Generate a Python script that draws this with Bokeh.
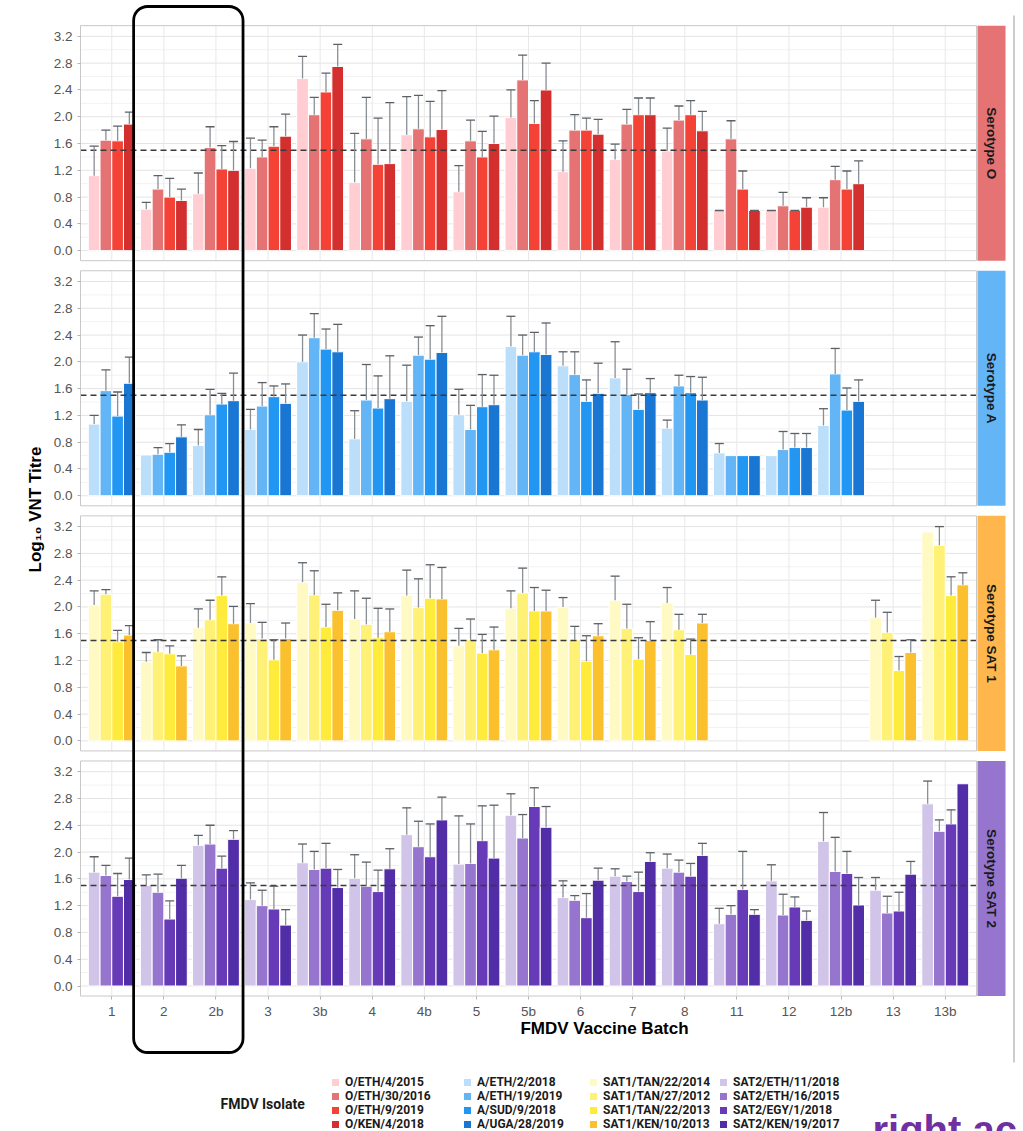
import math
from bokeh.plotting import figure
from bokeh.models import (Range1d, FixedTicker, ColumnDataSource, Whisker, TeeHead,
                          BoxAnnotation, Label, Legend, LegendItem)
from bokeh.embed import file_html
from bokeh.resources import INLINE
from bokeh.core.properties import value

# ---------------- data ----------------
BATCHES = ["1", "2", "2b", "3", "3b", "4", "4b", "5", "5b", "6", "7", "8",
           "11", "12", "12b", "13", "13b"]
THRESHOLD = 1.5
Y_TICKS = [0.0, 0.4, 0.8, 1.2, 1.6, 2.0, 2.4, 2.8, 3.2]
Y_MINOR = [0.2, 0.6, 1.0, 1.4, 1.8, 2.2, 2.6, 3.0]
N = None

O_ISOLATES = ["O/ETH/4/2015", "O/ETH/30/2016", "O/ETH/9/2019", "O/KEN/4/2018"]
O_MEAN = [
    [1.12, 0.62, 0.85, 1.23, 2.57, 1.02, 1.73, 0.88, 1.99, 1.18, 1.36, 1.49, 0.60, 0.60, 0.65, N, N],
    [1.65, 0.92, 1.54, 1.40, 2.03, 1.67, 1.82, 1.64, 2.55, 1.80, 1.89, 1.95, 1.67, 0.67, 1.06, N, N],
    [1.64, 0.80, 1.22, 1.56, 2.37, 1.29, 1.70, 1.40, 1.90, 1.80, 2.03, 2.03, 0.92, 0.60, 0.92, N, N],
    [1.89, 0.75, 1.20, 1.71, 2.75, 1.30, 1.81, 1.60, 2.40, 1.74, 2.03, 1.79, 0.60, 0.65, 1.00, N, N],
]
O_UPPER = [
    [1.56, 0.72, 1.16, 1.68, 2.90, 1.75, 2.30, 1.27, 2.40, 1.64, 1.59, 1.83, 0.60, 0.60, 0.79, N, N],
    [1.80, 1.12, 1.85, 1.65, 2.29, 2.29, 2.32, 1.95, 2.92, 2.03, 2.11, 2.16, 1.94, 0.87, 1.26, N, N],
    [1.86, 1.08, 1.57, 1.85, 2.65, 1.98, 2.23, 1.78, 2.24, 1.98, 2.28, 2.24, 1.19, 0.60, 1.19, N, N],
    [2.07, 0.92, 1.63, 2.04, 3.08, 2.21, 2.39, 2.01, 2.80, 1.96, 2.28, 2.08, 0.60, 0.79, 1.34, N, N],
]

A_ISOLATES = ["A/ETH/2/2018", "A/ETH/19/2019", "A/SUD/9/2018", "A/UGA/28/2019"]
A_MEAN = [
    [1.07, 0.61, 0.75, 0.99, 2.00, 0.85, 1.41, 1.21, 2.23, 1.94, 1.76, 1.01, 0.64, 0.60, 1.05, N, N],
    [1.57, 0.62, 1.21, 1.34, 2.36, 1.43, 2.10, 0.99, 2.10, 1.81, 1.51, 1.64, 0.60, 0.69, 1.82, N, N],
    [1.19, 0.65, 1.37, 1.48, 2.19, 1.31, 2.04, 1.33, 2.15, 1.41, 1.29, 1.54, 0.60, 0.72, 1.28, N, N],
    [1.68, 0.88, 1.42, 1.38, 2.15, 1.45, 2.14, 1.36, 2.11, 1.53, 1.54, 1.43, 0.60, 0.72, 1.41, N, N],
]
A_UPPER = [
    [1.20, N, 0.99, 1.29, 2.40, 1.27, 1.95, 1.59, 2.68, 2.15, 2.30, 1.13, 0.78, N, 1.30, N, N],
    [1.88, 0.72, 1.59, 1.69, 2.72, 1.96, 2.37, 1.35, 2.40, 2.15, 1.89, 1.80, N, 0.96, 2.20, N, N],
    [1.55, 0.78, 1.53, 1.64, 2.49, 1.79, 2.54, 1.81, 2.44, 1.73, 1.52, 1.78, N, 0.93, 1.61, N, N],
    [2.07, 1.06, 1.83, 1.67, 2.56, 2.09, 2.68, 1.80, 2.58, 1.98, 1.75, 1.77, N, 0.93, 1.73, N, N],
]

SAT1_ISOLATES = ["SAT1/TAN/22/2014", "SAT1/TAN/27/2012", "SAT1/TAN/22/2013", "SAT1/KEN/10/2013"]
SAT1_MEAN = [
    [2.03, 1.18, 1.69, 1.76, 2.37, 1.82, 2.17, 1.42, 1.98, 2.00, 2.10, 2.06, N, N, N, 1.84, 3.12],
    [2.19, 1.33, 1.81, 1.53, 2.18, 1.74, 1.99, 1.51, 2.21, 1.51, 1.68, 1.66, N, N, N, 1.62, 2.92],
    [1.48, 1.30, 2.17, 1.21, 1.70, 1.54, 2.13, 1.31, 1.94, 1.19, 1.22, 1.29, N, N, N, 1.05, 2.17],
    [1.58, 1.12, 1.75, 1.53, 1.95, 1.63, 2.12, 1.36, 1.94, 1.57, 1.50, 1.76, N, N, N, 1.32, 2.33],
]
SAT1_UPPER = [
    [2.24, 1.32, 1.97, 2.05, 2.66, 2.24, 2.55, 1.68, 2.24, 2.14, 2.46, 2.29, N, N, N, 2.10, N],
    [2.26, 1.51, 2.10, 1.77, 2.54, 2.13, 2.42, 1.82, 2.58, 1.71, 2.04, 1.89, N, N, N, 1.92, 3.20],
    [1.65, 1.42, 2.45, 1.51, 2.04, 1.98, 2.63, 1.59, 2.29, 1.57, 1.54, 1.52, N, N, N, 1.26, 2.45],
    [1.72, 1.27, 2.01, 1.76, 2.21, 1.97, 2.59, 1.70, 2.25, 1.75, 1.78, 1.89, N, N, N, 1.51, 2.51],
]

SAT2_ISOLATES = ["SAT2/ETH/11/2018", "SAT2/ETH/16/2015", "SAT2/EGY/1/2018", "SAT2/KEN/19/2017"]
SAT2_MEAN = [
    [1.70, 1.50, 2.10, 1.29, 1.84, 1.61, 2.26, 1.82, 2.55, 1.32, 1.64, 1.76, 0.93, 1.57, 2.16, 1.43, 2.72],
    [1.65, 1.40, 2.12, 1.20, 1.74, 1.49, 2.08, 1.83, 2.21, 1.28, 1.56, 1.70, 1.07, 1.06, 1.71, 1.09, 2.31],
    [1.34, 1.00, 1.76, 1.15, 1.76, 1.41, 1.93, 2.17, 2.68, 1.02, 1.41, 1.64, 1.44, 1.18, 1.68, 1.12, 2.42],
    [1.59, 1.61, 2.19, 0.91, 1.47, 1.75, 2.48, 1.91, 2.37, 1.58, 1.86, 1.95, 1.07, 0.98, 1.21, 1.67, 3.02],
]
SAT2_UPPER = [
    [1.93, 1.66, 2.25, 1.54, 2.12, 1.96, 2.66, 2.54, 2.87, 1.57, 1.75, 1.97, 1.16, 1.81, 2.59, 1.62, 3.06],
    [1.80, 1.67, 2.40, 1.43, 2.01, 1.85, 2.46, 2.42, 2.56, 1.35, 1.64, 1.88, 1.20, 1.37, 2.22, 1.34, 2.48],
    [1.68, 1.27, 1.94, 1.49, 2.13, 1.73, 2.42, 2.69, 2.96, 1.38, 1.70, 1.83, 2.01, 1.33, 2.01, 1.40, 2.63],
    [1.91, 1.80, 2.32, 1.14, 1.74, 2.05, 2.82, 2.70, 2.68, 1.76, 1.99, 2.13, 1.14, 1.12, 1.62, 1.86, N],
]

PANELS = [
    ("Serotype O", O_ISOLATES, O_MEAN, O_UPPER,
     ["#FFCDD2", "#E57373", "#F44336", "#D32F2F"], "#E57373"),
    ("Serotype A", A_ISOLATES, A_MEAN, A_UPPER,
     ["#BBDEFB", "#64B5F6", "#2196F3", "#1976D2"], "#64B5F6"),
    ("Serotype SAT 1", SAT1_ISOLATES, SAT1_MEAN, SAT1_UPPER,
     ["#FFF9C4", "#FFF176", "#FFEB3B", "#FBC02D"], "#FFB74D"),
    ("Serotype SAT 2", SAT2_ISOLATES, SAT2_MEAN, SAT2_UPPER,
     ["#D1C4E9", "#9575CD", "#673AB7", "#512DA8"], "#9575CD"),
]

# ---------------- layout geometry (page pixels -> data) ----------------
FONT = "Liberation Sans"
LEG_FONT = "Roboto"
W, H = 1023, 1131
PANEL_LEFT_PX, PANEL_RIGHT_PX, STRIP_RIGHT_PX = 80, 976, 1005
ZERO_PX = 985.5          # page y of value 0 in the lowest panel
PX_Y = 66.97             # px per log10 unit
PANEL_LO, PANEL_HI, GAP = -0.15, 3.36, 0.15
PITCH = PANEL_HI - PANEL_LO + GAP
NP = len(PANELS)
X0 = -0.6
X_PANEL_END = len(BATCHES) - 1 + 0.6
PX_X = (PANEL_RIGHT_PX - PANEL_LEFT_PX) / (X_PANEL_END - X0)
BW = 0.225          # bar width (4 bars dodged over 0.9)
CAP = 9             # error-bar cap in px
LEGEND_COL_PX = [330, 462, 588, 718]


def xd(px):
    return X0 + (px - PANEL_LEFT_PX) / PX_X


def yd(py):
    return (ZERO_PX - py) / PX_Y


p = figure(width=W, height=H, x_range=Range1d(xd(0), xd(W)), y_range=Range1d(yd(H), yd(0)),
           output_backend="svg", toolbar_location=None, title=None,
           min_border_left=0, min_border_right=0, min_border_top=0, min_border_bottom=0)
p.outline_line_color = None
p.background_fill_color = "white"
p.border_fill_color = "white"
p.xgrid.visible = False
p.ygrid.visible = False

offsets = [(NP - 1 - k) * PITCH for k in range(NP)]
major = sorted(round(o + t, 4) for o in offsets for t in Y_TICKS)
overrides = {round(o + t, 4): f"{t:.1f}" for o in offsets for t in Y_TICKS}

p.yaxis.ticker = FixedTicker(ticks=major)
p.yaxis.major_label_overrides = overrides
p.yaxis.fixed_location = X0
p.xaxis.ticker = FixedTicker(ticks=list(range(len(BATCHES))))
p.xaxis.major_label_overrides = {i: b for i, b in enumerate(BATCHES)}
p.xaxis.fixed_location = PANEL_LO

for ax in (p.xaxis, p.yaxis):
    ax.axis_line_color = None
    ax.major_tick_line_color = "#b3b3b3"
    ax.major_tick_out = 3
    ax.major_tick_in = 0
    ax.minor_tick_line_color = None
    ax.major_label_text_font = FONT
    ax.major_label_text_font_size = "13.5px"
    ax.major_label_text_color = "#555555"
    ax.major_label_standoff = 5

n_b = len(BATCHES)
legend_cols = []
for k, (strip, names, means, uppers, colors, strip_color) in enumerate(PANELS):
    off = offsets[k]
    # panel grid
    p.segment(x0=[X0] * len(Y_MINOR), x1=[X_PANEL_END] * len(Y_MINOR),
              y0=[off + t for t in Y_MINOR], y1=[off + t for t in Y_MINOR],
              line_color="#f2f2f2", line_width=1)
    p.segment(x0=[X0] * len(Y_TICKS), x1=[X_PANEL_END] * len(Y_TICKS),
              y0=[off + t for t in Y_TICKS], y1=[off + t for t in Y_TICKS],
              line_color="#e4e4e4", line_width=1)
    p.segment(x0=list(range(n_b)), x1=list(range(n_b)),
              y0=[off + PANEL_LO] * n_b, y1=[off + PANEL_HI] * n_b,
              line_color="#e8e8e8", line_width=1)
    items = []
    for j, name in enumerate(names):
        xs, tops, bots, wx, wlo, wup = [], [], [], [], [], []
        for i, m in enumerate(means[j]):
            if m is None:
                continue
            x = i + (j - 1.5) * BW
            xs.append(x)
            tops.append(off + m)
            bots.append(off)
            u = uppers[j][i]
            if u is not None:
                wx.append(x)
                wlo.append(off + m)
                wup.append(off + u)
        src = ColumnDataSource(dict(x=xs, top=tops, bottom=bots))
        r = p.vbar(x="x", width=BW, top="top", bottom="bottom", source=src,
                   fill_color=colors[j], line_color="white", line_width=1)
        items.append(LegendItem(label=name, renderers=[r]))
        wsrc = ColumnDataSource(dict(x=wx, lower=wlo, upper=wup))
        p.add_layout(Whisker(source=wsrc, base="x", lower="lower", upper="upper",
                             dimension="height", line_color="#8a8f94", line_width=1.3,
                             upper_head=TeeHead(size=CAP, line_color="#5b6066", line_width=1.3),
                             lower_head=None, level="annotation"))
    legend_cols.append(items)
    # threshold line
    p.segment(x0=[X0], x1=[X_PANEL_END], y0=[off + THRESHOLD], y1=[off + THRESHOLD],
              line_color="#3a3a3a", line_width=1.5, line_dash="6 4")
    # panel border
    p.quad(left=[X0], right=[X_PANEL_END], bottom=[off + PANEL_LO], top=[off + PANEL_HI],
           fill_color=None, line_color="#c8c8c8", line_width=1)
    # strip
    s_left = X_PANEL_END + 1.0 / PX_X
    s_right = xd(STRIP_RIGHT_PX)
    p.quad(left=[s_left], right=[s_right], bottom=[off + PANEL_LO], top=[off + PANEL_HI],
           fill_color=strip_color, line_color=None)
    p.text(x=[(s_left + s_right) / 2], y=[off + (PANEL_LO + PANEL_HI) / 2], text=[strip],
           angle=-math.pi / 2, text_align="center", text_baseline="middle",
           text_font=value(FONT), text_font_style="bold", text_font_size="13.5px",
           text_color="#1a1a1a")

# axis titles
p.add_layout(Label(x=xd(35), y=yd(509), text="Log\u2081\u2080 VNT Titre", angle=math.pi / 2,
                   text_align="center", text_baseline="middle", text_font=FONT,
                   text_font_style="bold", text_font_size="17px", text_color="black"))
p.add_layout(Label(x=xd(604), y=yd(1028), text="FMDV Vaccine Batch",
                   text_align="center", text_baseline="middle", text_font=FONT,
                   text_font_style="bold", text_font_size="17px", text_color="black"))

# legend: one column per serotype
for col_px, items in zip(LEGEND_COL_PX, legend_cols):
    lg = Legend(items=items, orientation="vertical",
                location=(col_px, 0), glyph_width=10, glyph_height=10,
                label_height=10, label_standoff=5, spacing=0, padding=0, margin=0,
                border_line_color=None, background_fill_alpha=0,
                label_text_font=LEG_FONT, label_text_font_style="bold",
                label_text_font_size="12px", label_text_color="#1a1a1a",
                label_text_baseline="middle")
    p.add_layout(lg)
p.add_layout(Label(x=xd(220), y=yd(1103), text="FMDV Isolate", text_align="left",
                   text_baseline="middle", text_font=LEG_FONT, text_font_style="bold",
                   text_font_size="14px", text_color="#1a1a1a"))

# highlight box around batches 2 and 2b
box = BoxAnnotation(left=BATCHES.index("2") - 0.58, right=BATCHES.index("2b") + 0.52,
                    top=yd(6), bottom=yd(1052), fill_color=None, fill_alpha=0,
                    line_color="black", line_alpha=1, line_width=2.8, level="overlay")
try:
    box.border_radius = 14
except Exception:
    pass
p.add_layout(box)

# page edge line and watermark
p.add_layout(BoxAnnotation(left=xd(1013), right=xd(1014), top=yd(15), bottom=yd(1062),
                           fill_color="#9a9a9a", fill_alpha=1, line_color=None))
p.add_layout(Label(x=xd(872), y=yd(1129), text="right ac", text_align="left",
                   text_baseline="alphabetic", text_font=FONT, text_font_style="bold",
                   text_font_size="40px", text_color="#7030A0"))

open("out.html", "w").write(file_html(p, INLINE))
